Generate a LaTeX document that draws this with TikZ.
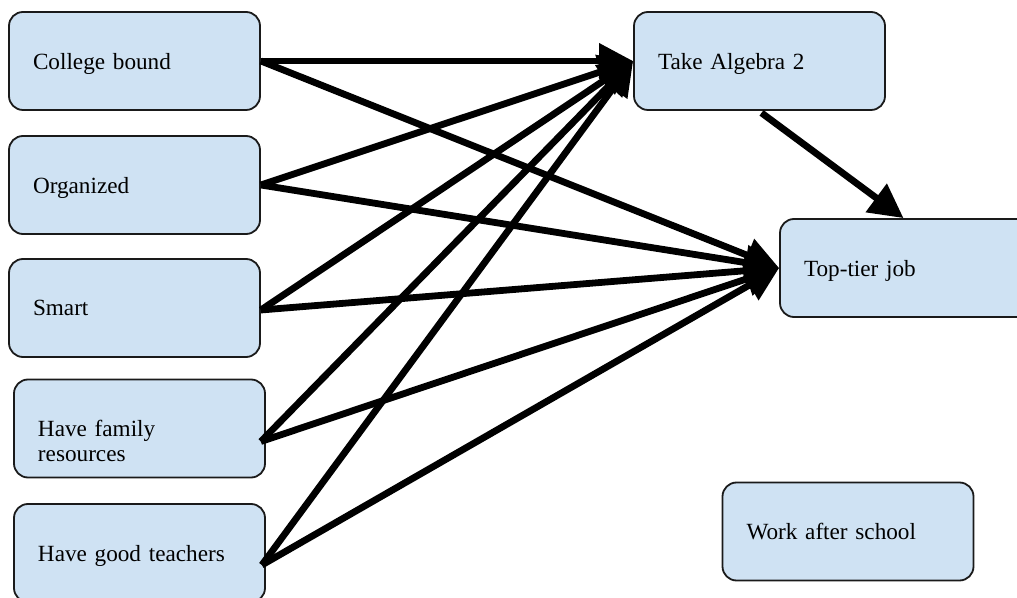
\documentclass[tikz,border=0pt]{standalone}
\usepackage{fontspec}
\setmainfont{Liberation Serif}
\usetikzlibrary{arrows.meta}
\definecolor{boxfill}{HTML}{CFE2F3}
\definecolor{boxline}{HTML}{1A1A1A}
\begin{document}
\begin{tikzpicture}[x=0.5pt,y=-0.5pt,
  box/.style={draw=boxline, line width=0.9pt, fill=boxfill, rounded corners=7pt,
    minimum height=49pt, text width=101.5pt, inner xsep=12pt, inner ysep=0pt,
    align=left, text depth=0pt, font=\fontsize{11.6}{12.5}\selectfont},
  conn/.style={line width=3.4pt, -{Triangle[length=17pt,width=17pt]}}]
\useasboundingbox (0,0) rectangle (1017,598);
\node[box] (cb)   at (134.5,61)  {College bound};
\node[box] (org)  at (134.5,185) {Organized};
\node[box] (sm)   at (134.5,308) {Smart};
\node[box] (fam)  at (139.5,428.5) {Have family\\resources};
\node[box] (tea)  at (139.5,553) {Have good teachers};
\node[box] (alg)  at (759.5,61)  {Take Algebra 2};
\node[box] (top)  at (905.5,268) {Top-tier job};
\node[box] (work) at (848,531.5) {Work after school};
\coordinate (famo) at ([xshift=-2.5pt,yshift=-6.5pt]fam.east);
\coordinate (teao) at ([xshift=-2pt,yshift=-6pt]tea.east);
\coordinate (orgo) at ([xshift=0pt,yshift=0pt]org.east);
\coordinate (smo) at ([xshift=0pt,yshift=-1pt]sm.east);
\draw[conn] (cb.east) -- (alg.west);
\draw[conn] (cb.east) -- (top.west);
\draw[conn] (orgo) -- (alg.west);
\draw[conn] (orgo) -- (top.west);
\draw[conn] (smo) -- (alg.west);
\draw[conn] (smo) -- (top.west);
\draw[conn] (famo) -- (alg.west);
\draw[conn] (famo) -- (top.west);
\draw[conn] (teao) -- (alg.west);
\draw[conn] (teao) -- (top.west);
\draw[conn] ([xshift=1pt,yshift=-1pt]alg.south) -- ([xshift=-1pt]top.north);
\end{tikzpicture}
\end{document}
